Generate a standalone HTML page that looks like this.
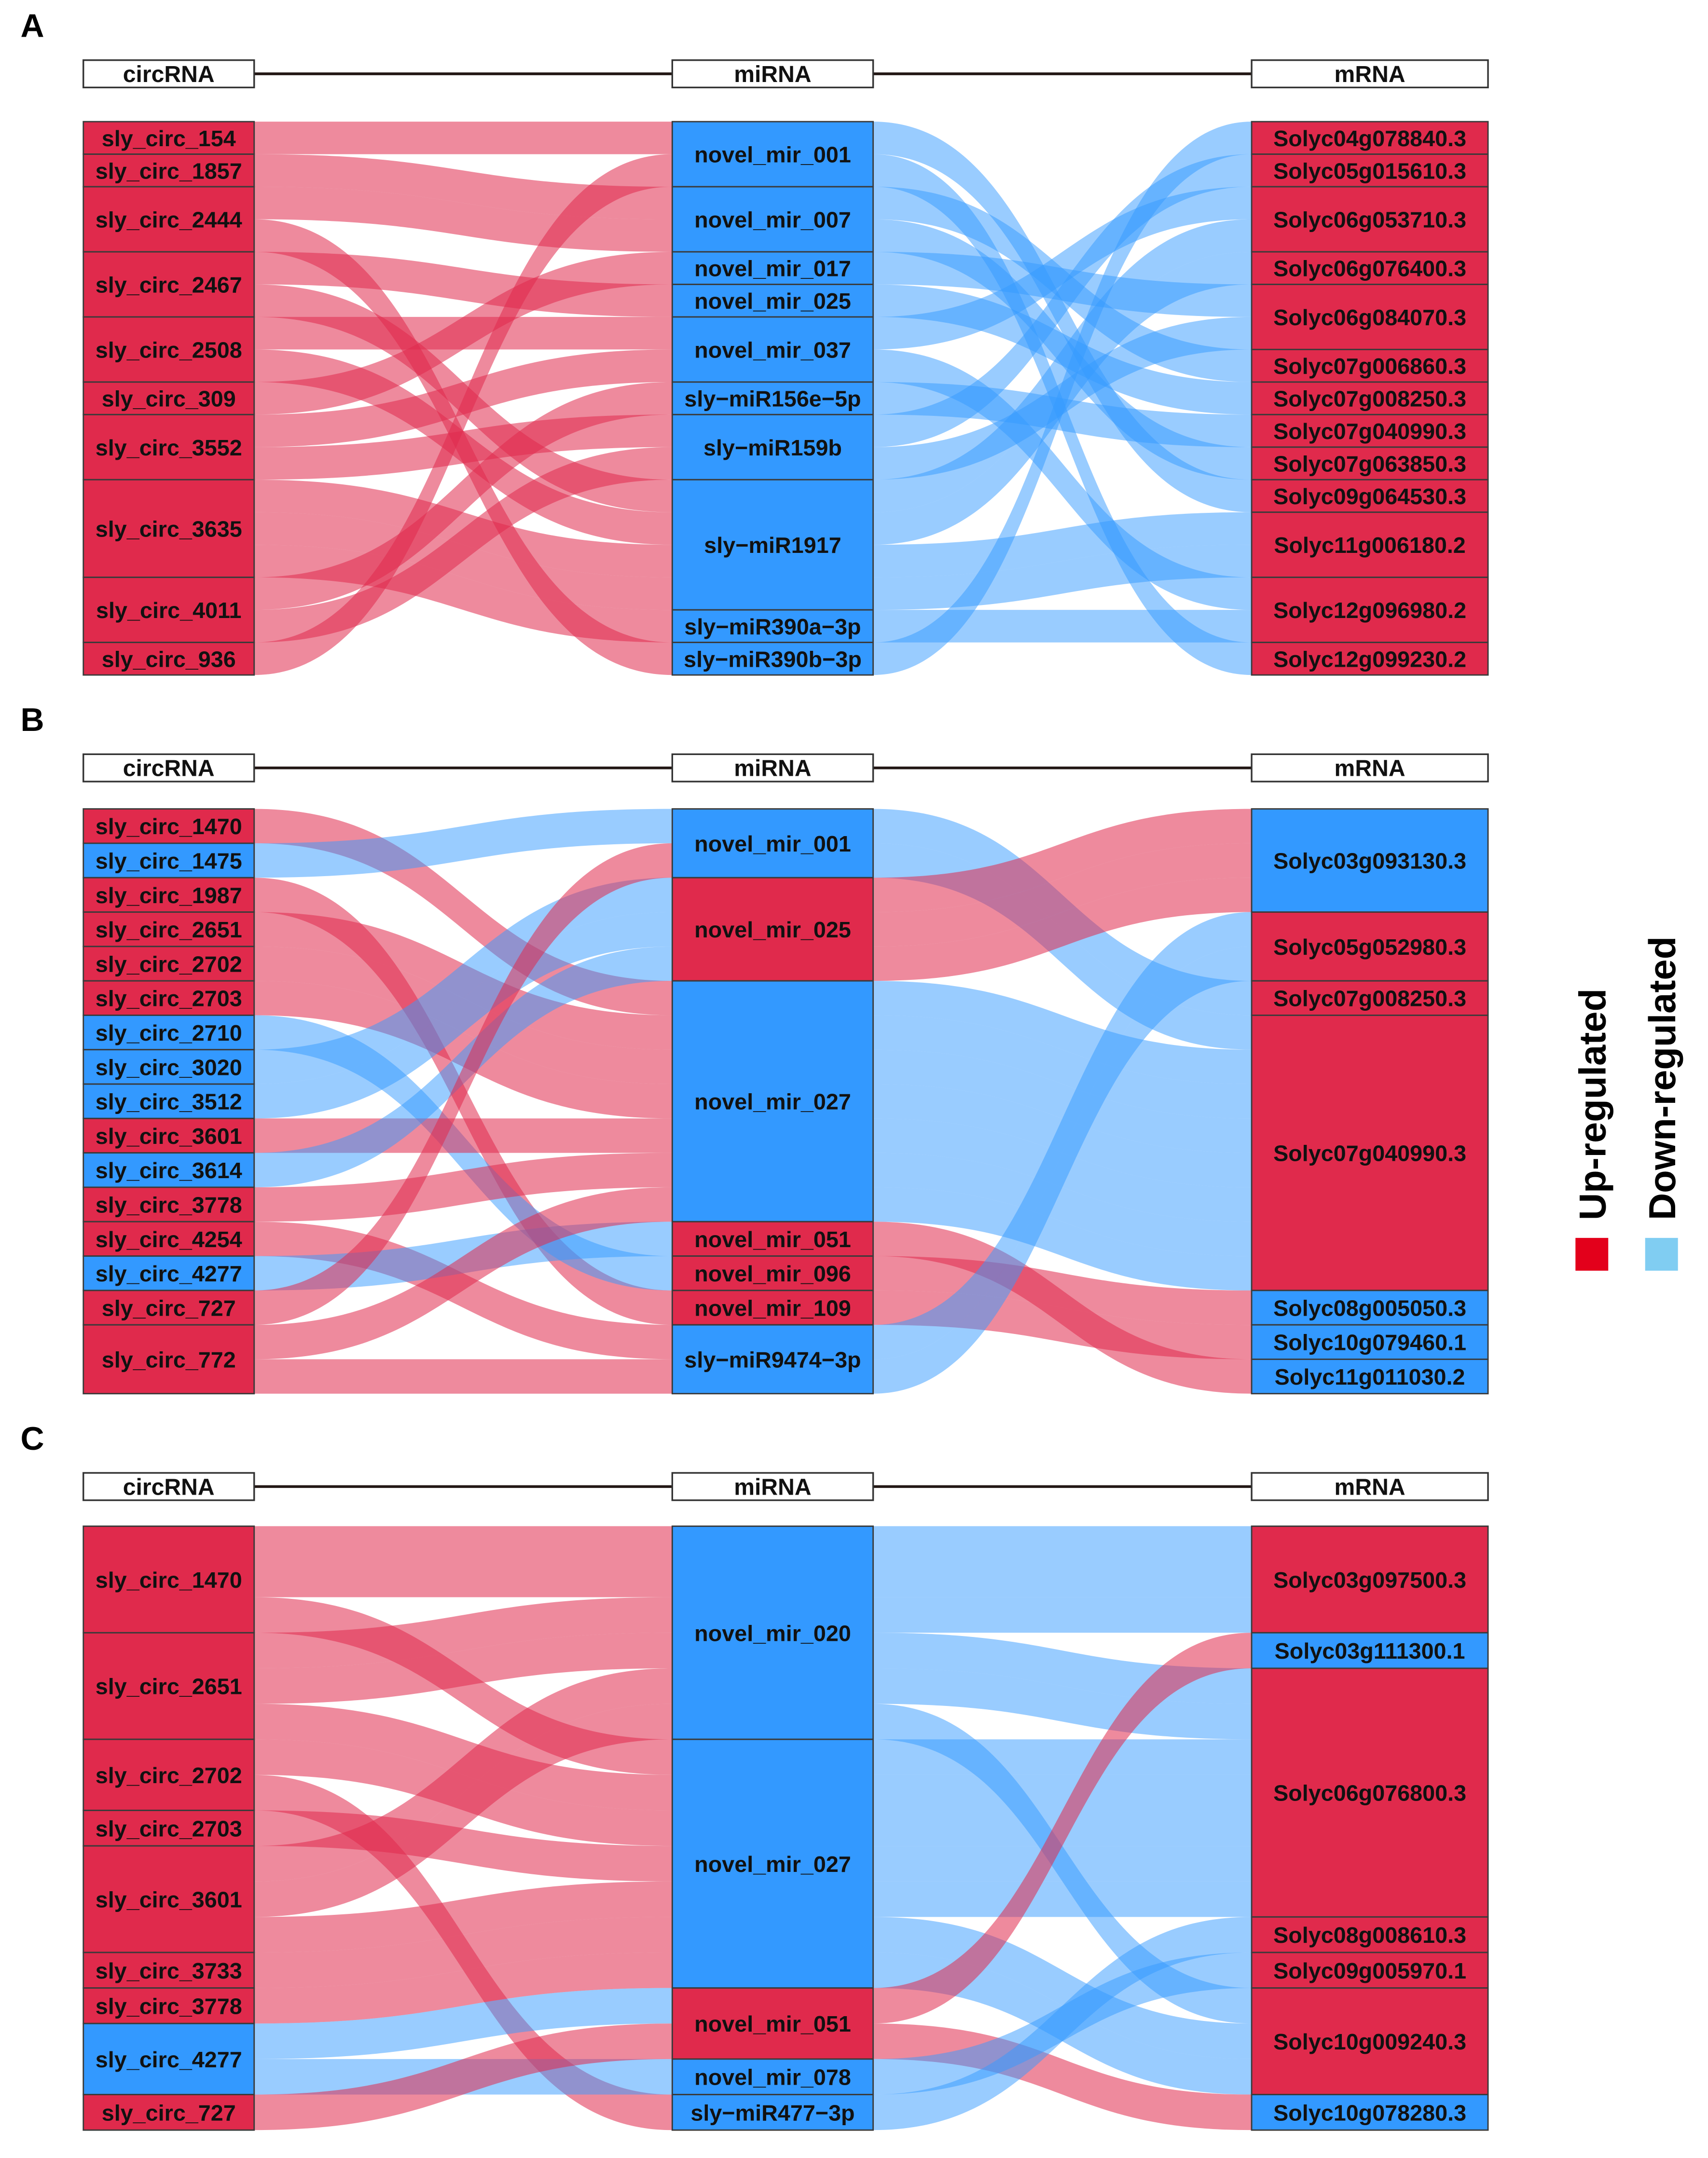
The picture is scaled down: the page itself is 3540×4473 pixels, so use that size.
<!DOCTYPE html>
<html><head><meta charset="utf-8"><style>
html,body{margin:0;padding:0;background:#fff;}
svg{display:block;}
text{font-family:"Liberation Sans",Arial,sans-serif;font-weight:bold;}
</style></head><body>
<svg id="chart" xmlns="http://www.w3.org/2000/svg" width="3540" height="4473" viewBox="0 0 1250 1579.4">
<rect width="1250" height="1579.4" fill="#fff"/>
<g id="panels"></g>
<g>
<rect x="1153" y="906" width="24" height="24" fill="#E3001B"/>
<rect x="1204" y="906" width="24" height="24" fill="#80CDF2"/>
<text transform="translate(1175,893) rotate(-90)" font-size="27.5" fill="#000">Up-regulated</text>
<text transform="translate(1226,893) rotate(-90)" font-size="27.5" fill="#000">Down-regulated</text>
</g>
</svg>
<script>
// ---------- Panel A data ----------
const aCirc = ['sly_circ_154','sly_circ_1857','sly_circ_2444','sly_circ_2467','sly_circ_2508','sly_circ_309','sly_circ_3552','sly_circ_3635','sly_circ_4011','sly_circ_936'];
const aCircUp = [1,1,1,1,1,1,1,1,1,1];
const aMir = ['novel_mir_001','novel_mir_007','novel_mir_017','novel_mir_025','novel_mir_037','sly\u2212miR156e\u22125p','sly\u2212miR159b','sly\u2212miR1917','sly\u2212miR390a\u22123p','sly\u2212miR390b\u22123p'];
const aMirUp = [0,0,0,0,0,0,0,0,0,0];
const aMrna = ['Solyc04g078840.3','Solyc05g015610.3','Solyc06g053710.3','Solyc06g076400.3','Solyc06g084070.3','Solyc07g006860.3','Solyc07g008250.3','Solyc07g040990.3','Solyc07g063850.3','Solyc09g064530.3','Solyc11g006180.2','Solyc12g096980.2','Solyc12g099230.2'];
const aMrnaUp = [1,1,1,1,1,1,1,1,1,1,1,1,1];
const aL1Src = [0,1,2,2,3,3,4,4,5,6,6,7,7,7,8,8,9];
const aL1Tgt = [0,1,1,9,3,7,4,7,2,4,6,7,7,8,5,6,0];
const aL2Src = [0,0,1,1,2,3,4,4,5,6,6,7,7,7,7,8,9];
const aL2Tgt = [9,12,5,8,4,6,2,11,7,1,4,2,3,10,10,11,0];
// ---------- Panel B data ----------
const bCirc = ['sly_circ_1470','sly_circ_1475','sly_circ_1987','sly_circ_2651','sly_circ_2702','sly_circ_2703','sly_circ_2710','sly_circ_3020','sly_circ_3512','sly_circ_3601','sly_circ_3614','sly_circ_3778','sly_circ_4254','sly_circ_4277','sly_circ_727','sly_circ_772'];
const bCircUp = [1,0,1,1,1,1,0,0,0,1,0,1,1,0,1,1];
const bMir = ['novel_mir_001','novel_mir_025','novel_mir_027','novel_mir_051','novel_mir_096','novel_mir_109','sly\u2212miR9474\u22123p'];
const bMirUp = [0,1,0,1,1,1,0];
const bMrna = ['Solyc03g093130.3','Solyc05g052980.3','Solyc07g008250.3','Solyc07g040990.3','Solyc08g005050.3','Solyc10g079460.1','Solyc11g011030.2'];
const bMrnaUp = [0,1,1,1,0,0,0];
const bL1Src = [0,1,2,3,4,5,6,7,8,9,10,11,12,13,14,15,15];
const bL1Tgt = [2,0,5,2,2,2,4,1,1,2,1,2,6,3,0,2,6];
const bL2Src = [0,0,1,1,1,2,2,2,2,2,2,2,3,4,5,6,6];
const bL2Tgt = [2,3,0,0,0,3,3,3,3,3,3,3,6,4,5,1,1];
// ---------- Panel C data ----------
const cCirc = ['sly_circ_1470','sly_circ_2651','sly_circ_2702','sly_circ_2703','sly_circ_3601','sly_circ_3733','sly_circ_3778','sly_circ_4277','sly_circ_727'];
const cCircUp = [1,1,1,1,1,1,1,0,1];
const cMir = ['novel_mir_020','novel_mir_027','novel_mir_051','novel_mir_078','sly\u2212miR477\u22123p'];
const cMirUp = [0,0,1,0,0];
const cMrna = ['Solyc03g097500.3','Solyc03g111300.1','Solyc06g076800.3','Solyc08g008610.3','Solyc09g005970.1','Solyc10g009240.3','Solyc10g078280.3'];
const cMrnaUp = [1,0,1,1,1,1,0];
const cL1Src = [0,0,0,1,1,1,2,2,3,4,4,4,5,6,7,7,8];
const cL1Tgt = [0,0,1,0,0,1,1,4,1,0,0,1,1,1,2,3,2];
const cL2Src = [0,0,0,0,0,0,1,1,1,1,1,1,1,2,2,3,4];
const cL2Tgt = [0,0,0,2,2,5,2,2,2,2,2,5,5,1,6,4,3];

const NS = 'http://www.w3.org/2000/svg';
const RED = '#E02A4C', BLUE = '#3399FF';
const COLS = [[61,186],[492,639],[916,1089]];

function mk(tag, attrs, parent){
  const e = document.createElementNS(NS, tag);
  for (const k in attrs) e.setAttribute(k, attrs[k]);
  parent.appendChild(e);
  return e;
}

function drawPanel(letter, y0, y1, hy, names, ups, links){
  const root = document.getElementById('panels');
  const g = mk('g', {}, root);
  
  
  const lab = mk('text', {x: 15, y: hy - 17, 'font-size': 24, fill: '#000'}, g);
  lab.textContent = letter.toUpperCase();
  
  
  const heads = ['circRNA','miRNA','mRNA'];
  const hh = 20;
  mk('line', {x1: COLS[0][1], x2: COLS[1][0], y1: hy + hh/2, y2: hy + hh/2, stroke: '#231815', 'stroke-width': 2}, g);
  mk('line', {x1: COLS[1][1], x2: COLS[2][0], y1: hy + hh/2, y2: hy + hh/2, stroke: '#231815', 'stroke-width': 2}, g);
  heads.forEach((h, i) => {
    const r = mk('rect', {x: COLS[i][0], y: hy, width: COLS[i][1]-COLS[i][0], height: hh, fill: '#fff', stroke: '#333', 'stroke-width': 1.2}, g);
    
    
    const t = mk('text', {x: (COLS[i][0]+COLS[i][1])/2, y: hy + 16, 'font-size': 17, 'text-anchor': 'middle', fill: '#111'}, g);
    t.textContent = h;
  });
  const total = links[0][0].length;
  const unit = (y1 - y0) / total;
  const sizes = [];
  sizes[0] = names[0].map((_, i) => links[0][0].filter(s => s === i).length);
  sizes[1] = names[1].map((_, i) => links[0][1].filter(t => t === i).length);
  sizes[2] = names[2].map((_, i) => links[1][1].filter(t => t === i).length);
  const pos = sizes.map(sz => { let acc = y0; return sz.map(s => { const p = acc; acc += s * unit; return p; }); });
  const lg = mk('g', {}, g);
  const ng = mk('g', {}, g);
  [0,1].forEach(st => {
    const src = links[st][0], tgt = links[st][1];
    const idx = src.map((_, i) => i);
    const outOrder = idx.slice().sort((a, b) => src[a] - src[b] || tgt[a] - tgt[b] || a - b);
    const inOrder = idx.slice().sort((a, b) => tgt[a] - tgt[b] || src[a] - src[b] || a - b);
    const outOff = {}, inOff = {};
    const oc = {}, ic = {};
    outOrder.forEach(i => { oc[src[i]] = (oc[src[i]] || 0); outOff[i] = pos[st][src[i]] + oc[src[i]] * unit; oc[src[i]]++; });
    inOrder.forEach(i => { ic[tgt[i]] = (ic[tgt[i]] || 0); inOff[i] = pos[st+1][tgt[i]] + ic[tgt[i]] * unit; ic[tgt[i]]++; });
    const xa = COLS[st][1], xb = COLS[st+1][0], xm = (xa + xb) / 2;
    idx.forEach(i => {
      const ys = outOff[i], yt = inOff[i];
      const d = `M${xa},${ys} C${xm},${ys} ${xm},${yt} ${xb},${yt} L${xb},${yt+unit} C${xm},${yt+unit} ${xm},${ys+unit} ${xa},${ys+unit} Z`;
      const up = ups[st][src[i]];
      const p = mk('path', {d: d, fill: up ? RED : BLUE, 'fill-opacity': up ? 0.55 : 0.5}, lg);
      
      
    });
  });
  [0,1,2].forEach(c => {
    names[c].forEach((n, i) => {
      const y = pos[c][i], h = sizes[c][i] * unit;
      const r = mk('rect', {x: COLS[c][0], y: y, width: COLS[c][1]-COLS[c][0], height: h, fill: ups[c][i] ? RED : BLUE, stroke: '#3a3a3a', 'stroke-width': 1}, ng);
      
      
      const t = mk('text', {x: (COLS[c][0]+COLS[c][1])/2, y: y + h/2 + 6, 'font-size': 16.5, 'text-anchor': 'middle', fill: '#111'}, ng);
      t.textContent = n;
      
      
    });
  });
}

drawPanel('a', 89, 494, 44, [aCirc, aMir, aMrna], [aCircUp, aMirUp, aMrnaUp], [[aL1Src, aL1Tgt], [aL2Src, aL2Tgt]]);
drawPanel('b', 592, 1020, 552, [bCirc, bMir, bMrna], [bCircUp, bMirUp, bMrnaUp], [[bL1Src, bL1Tgt], [bL2Src, bL2Tgt]]);
drawPanel('c', 1117, 1559, 1078, [cCirc, cMir, cMrna], [cCircUp, cMirUp, cMrnaUp], [[cL1Src, cL1Tgt], [cL2Src, cL2Tgt]]);
</script>
</body></html>
